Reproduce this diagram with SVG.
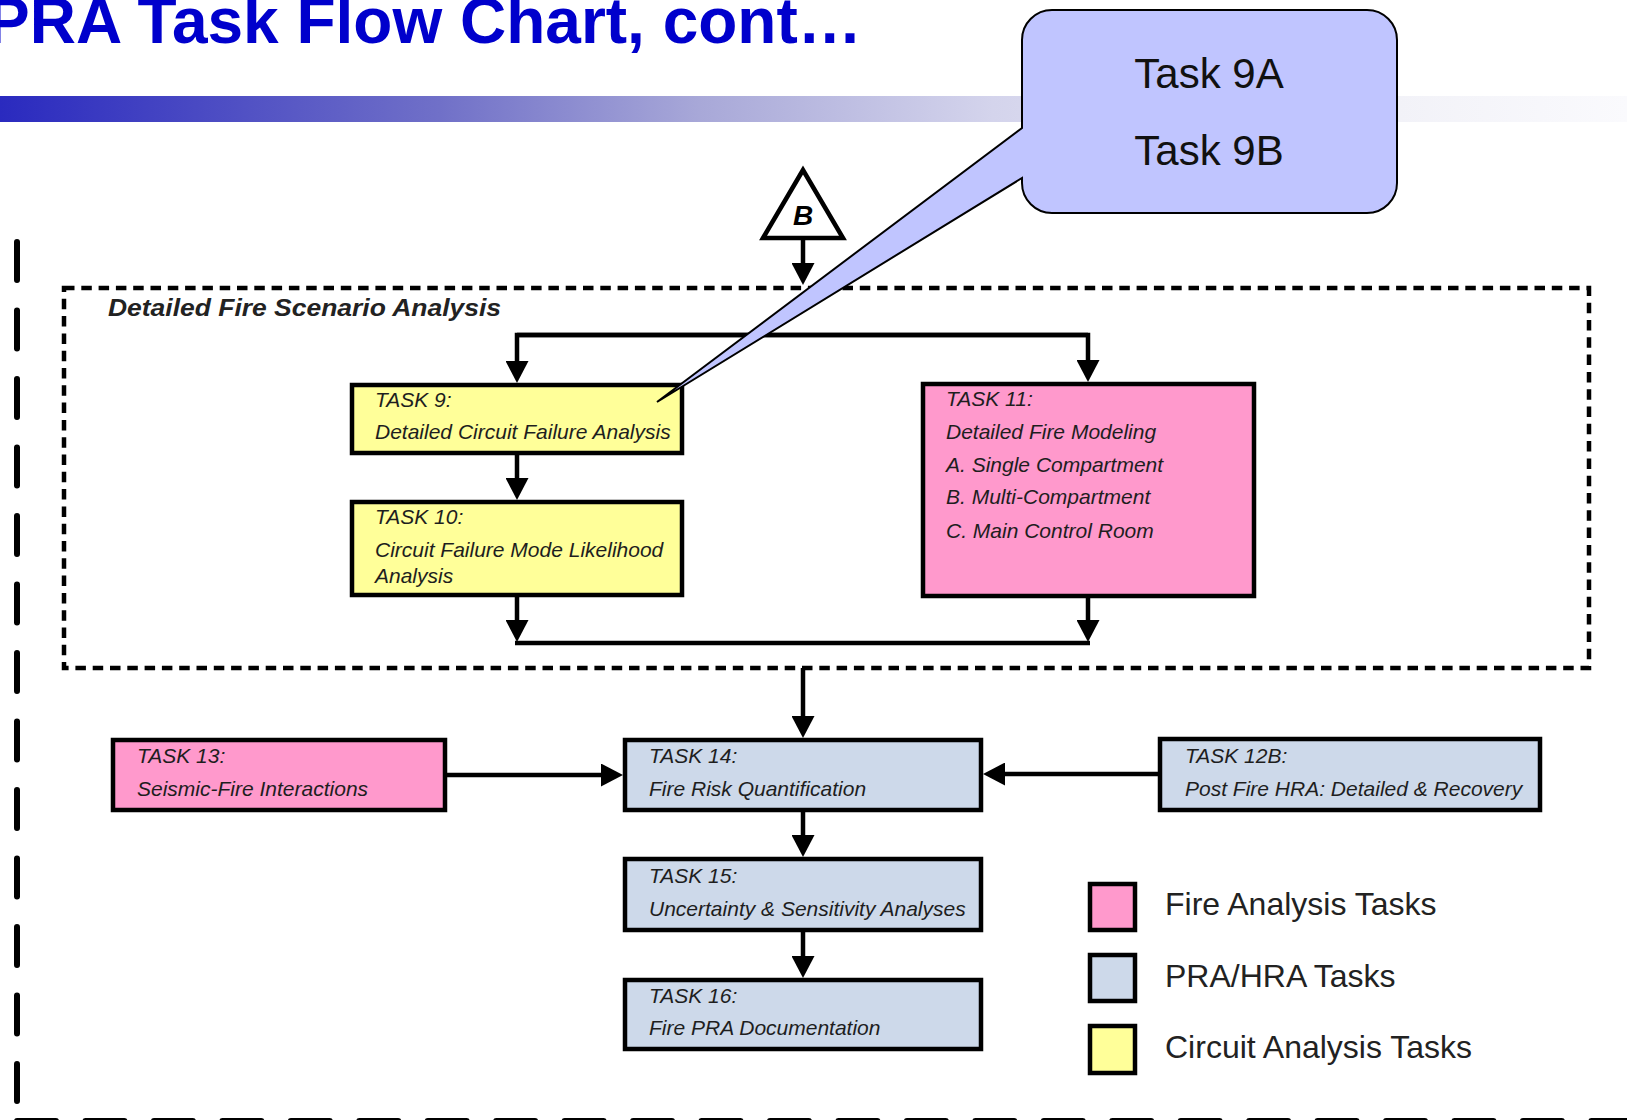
<svg xmlns="http://www.w3.org/2000/svg" width="1627" height="1120" viewBox="0 0 1627 1120">
<defs>
<linearGradient id="bar" x1="0" y1="0" x2="1627" y2="0" gradientUnits="userSpaceOnUse">
<stop offset="0" stop-color="#2a2abf"/>
<stop offset="0.27" stop-color="#7070c8"/>
<stop offset="0.43" stop-color="#a8a8d8"/>
<stop offset="0.61" stop-color="#d4d4ec"/>
<stop offset="0.86" stop-color="#f2f2f8"/>
<stop offset="1" stop-color="#fafafd"/>
</linearGradient>
<marker id="arr" markerUnits="userSpaceOnUse" markerWidth="22" markerHeight="23" refX="12" refY="11.5" orient="auto" viewBox="0 0 22 23">
<path d="M0,0 L22,11.5 L0,23 Z" fill="#000"/>
</marker>
</defs>
<style>
.box{stroke:#000;stroke-width:4.5}
.yel{fill:#ffff99}
.pink{fill:#ff99cc}
.blue{fill:#cdd9ea}
.t{font-family:"Liberation Sans",Arial,sans-serif;font-style:italic;font-size:21px;fill:#1e1e1e}
.leg{font-family:"Liberation Sans",Arial,sans-serif;font-size:32px;fill:#222}
.con{fill:none;stroke:#000;stroke-width:4.5}
.ca{marker-end:url(#arr)}
</style>
<rect width="1627" height="1120" fill="#fff"/>
<text x="-13" y="43" font-family="'Liberation Sans',Arial,sans-serif" font-weight="bold" font-size="64" fill="#0000cc">PRA Task Flow Chart, cont…</text>
<rect x="0" y="96" width="1627" height="26" fill="url(#bar)"/>
<g id="page-dashes" fill="none" stroke="#000" stroke-width="6" stroke-linecap="round">
<path d="M17,242 V1101" stroke-dasharray="38 30.5"/>
<path d="M17,1121 H1627" stroke-dasharray="39 29.45"/>
</g>
<g id="detailed-fire-scenario-analysis">
<rect x="64" y="288" width="1525" height="380" fill="none" stroke="#000" stroke-width="4.5" stroke-dasharray="10.5 6.8"/>
<text x="108" y="316" font-family="'Liberation Sans',Arial,sans-serif" font-weight="bold" font-style="italic" font-size="23" fill="#222" textLength="393" lengthAdjust="spacingAndGlyphs">Detailed Fire Scenario Analysis</text>
</g>
<g id="connector-B">
<polygon points="803,170 763,238 843,238" fill="#fff" stroke="#000" stroke-width="4.5"/>
<text x="803" y="225" text-anchor="middle" font-family="'Liberation Sans',Arial,sans-serif" font-weight="bold" font-style="italic" font-size="28" fill="#000">B</text>
</g>
<g id="connectors">
<path class="con ca" d="M803,240 V275"/>
<path class="con ca" d="M1088,335 H517 V373"/>
<path class="con ca" d="M517,335 H1088 V372"/>
<path class="con ca" d="M517,455 V490"/>
<path class="con ca" d="M517,597 V632"/>
<path class="con ca" d="M1088,598 V632"/>
<path class="con" d="M515,643 H1090"/>
<path class="con ca" d="M803,668 V728"/>
<path class="con ca" d="M447,775 H613"/>
<path class="con ca" d="M1158,774 H993"/>
<path class="con ca" d="M803,812 V847"/>
<path class="con ca" d="M803,932 V968"/>
</g>
<g id="task9">
<rect class="box yel" x="352" y="385" width="330" height="68"/>
<text class="t" x="375" y="407">TASK 9:</text>
<text class="t" x="375" y="439">Detailed Circuit Failure Analysis</text>
</g>
<g id="task10">
<rect class="box yel" x="352" y="502" width="330" height="93"/>
<text class="t" x="375" y="524">TASK 10:</text>
<text class="t" x="375" y="557">Circuit Failure Mode Likelihood</text>
<text class="t" x="375" y="583">Analysis</text>
</g>
<g id="task11">
<rect class="box pink" x="923" y="384" width="331" height="212"/>
<text class="t" x="946" y="406">TASK 11:</text>
<text class="t" x="946" y="439">Detailed Fire Modeling</text>
<text class="t" x="946" y="472">A. Single Compartment</text>
<text class="t" x="946" y="504">B. Multi-Compartment</text>
<text class="t" x="946" y="538">C. Main Control Room</text>
</g>
<g id="task13">
<rect class="box pink" x="113" y="740" width="332" height="70"/>
<text class="t" x="137" y="763">TASK 13:</text>
<text class="t" x="137" y="796">Seismic-Fire Interactions</text>
</g>
<g id="task14">
<rect class="box blue" x="625" y="740" width="356" height="70"/>
<text class="t" x="649" y="763">TASK 14:</text>
<text class="t" x="649" y="796">Fire Risk Quantification</text>
</g>
<g id="task12b">
<rect class="box blue" x="1160" y="739" width="380" height="71"/>
<text class="t" x="1185" y="763">TASK 12B:</text>
<text class="t" x="1185" y="796">Post Fire HRA: Detailed &amp; Recovery</text>
</g>
<g id="task15">
<rect class="box blue" x="625" y="859" width="356" height="71"/>
<text class="t" x="649" y="883">TASK 15:</text>
<text class="t" x="649" y="916">Uncertainty &amp; Sensitivity Analyses</text>
</g>
<g id="task16">
<rect class="box blue" x="625" y="980" width="356" height="69"/>
<text class="t" x="649" y="1003">TASK 16:</text>
<text class="t" x="649" y="1035">Fire PRA Documentation</text>
</g>
<g id="legend">
<rect class="box pink" x="1090" y="884" width="45" height="46"/>
<text class="leg" x="1165" y="915">Fire Analysis Tasks</text>
<rect class="box blue" x="1090" y="955" width="45" height="46"/>
<text class="leg" x="1165" y="987">PRA/HRA Tasks</text>
<rect class="box yel" x="1090" y="1026" width="45" height="47"/>
<text class="leg" x="1165" y="1058">Circuit Analysis Tasks</text>
</g>
<g id="callout">
<path d="M1052,10 H1367 A30,30 0 0 1 1397,40 V183 A30,30 0 0 1 1367,213 H1052 A30,30 0 0 1 1022,183 V178 L657,402 L1022,128 V40 A30,30 0 0 1 1052,10 Z" fill="#c0c5ff" stroke="#000" stroke-width="2"/>
<text x="1209" y="88" text-anchor="middle" font-family="'Liberation Sans',Arial,sans-serif" font-size="42" fill="#111">Task 9A</text>
<text x="1209" y="165" text-anchor="middle" font-family="'Liberation Sans',Arial,sans-serif" font-size="42" fill="#111">Task 9B</text>
</g>
</svg>
